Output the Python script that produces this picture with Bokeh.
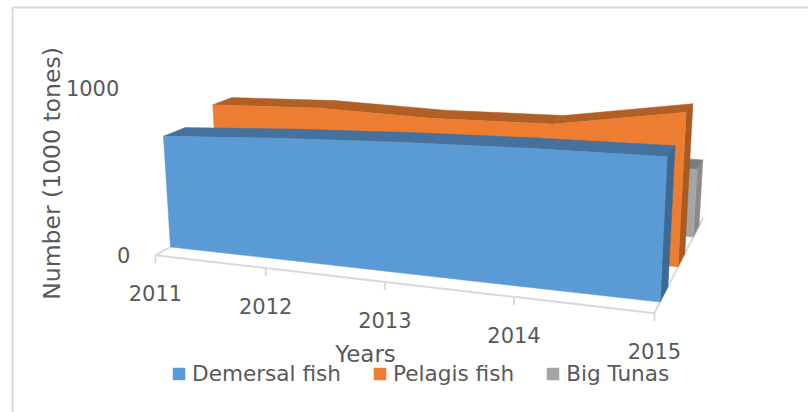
import numpy as np
from bokeh.core.properties import value
from bokeh.embed import file_html
from bokeh.models import Legend, LegendItem, Range1d
from bokeh.plotting import figure
from bokeh.resources import INLINE

years = ["2011", "2012", "2013", "2014", "2015"]
series_names = ["Demersal fish", "Pelagis fish", "Big Tunas"]
demersal = [685, 722, 748, 765, 772]
pelagis = [760, 780, 760, 770, 880]
big_tunas = [450, 440, 430, 420, 420]
y_ticks = [0, 1000]
y_title = "Number (1000 tones)"
x_title = "Years"

fills = ["#5B9BD5", "#ED7D31", "#A5A5A5"]
tops = ["#44719E", "#B25F25", "#7C7C7C"]
sides = ["#3D6A94", "#A85A20", "#8A8A8A"]
FONT = "DejaVu Sans"
TXT = "#595959"
GRID = "#D9D9D9"

# Camera: a single projective map (year index, depth, value) -> page pixels, fitted to the box.
D = [(0.095, 0.235), (0.43, 0.57), (0.76, 0.90)]
series = [demersal, pelagis, big_tunas]
anchors = [
    (0, 0, 0, 154, 253, 12), (1, 0, 0, 266, 268, 12), (2, 0, 0, 385, 282, 12), (3, 0, 0, 514, 297, 12),
    (4, 0, 0, 653, 313, 12), (4, 1, 0, 702, 220, 3), (0, 0, 1000, 143.5, 91, 6),
    (0, D[0][0], 0, 170, 243, 2), (4, D[0][0], 0, 658, 302, 2), (4, D[0][1], 0, 666, 288, 1),
    (4, D[1][0], 0, 677, 268, 1), (4, D[1][1], 0, 684, 255, 1),
    (0, D[0][0], 685, 163, 135, 3), (0, D[0][1], 685, 183, 127, 3),
    (4, D[0][0], 752, 668, 152, 3), (4, D[0][1], 752, 674, 143, 3),
    (0, D[1][0], 780, 213, 104, 3), (0, D[1][1], 780, 232, 98, 3),
    (4, D[1][0], 850, 686, 112, 3), (4, D[1][1], 850, 692, 104, 3),
    (4, D[2][0], 420, 696, 167, 1), (4, D[2][0], 0, 693, 237, 1),
]
rows, rhs = [], []
for X, Y, Z, u, w, g in anchors:
    Z = Z / 1000
    rows.append([g * c for c in [X, Y, Z, 1, 0, 0, 0, 0, -u * X, -u * Y, -u * Z]]); rhs.append(g * u)
    rows.append([g * c for c in [0, 0, 0, 0, X, Y, Z, 1, -w * X, -w * Y, -w * Z]]); rhs.append(g * w)
P = np.append(np.linalg.lstsq(np.array(rows, float), np.array(rhs, float), rcond=None)[0], 1.0).reshape(3, 4)


def proj(i, d, v):
    a = P @ np.array([i, d, v / 1000, 1.0])
    return a[0] / a[2], a[1] / a[2]


p = figure(width=808, height=412, output_backend="svg", toolbar_location=None,
           x_range=Range1d(0, 808), y_range=Range1d(412, 0), min_border=0,
           outline_line_color=None)
p.axis.visible = False
p.grid.visible = False

# chart frame
p.line([12, 12], [7, 412], line_color=GRID, line_width=2)
p.line([12, 808], [7, 7], line_color=GRID, line_width=2)

# floor and ticks
n = len(years)
floor_pts = [proj(i, 0, 0) for i in range(n)]
p.line([a[0] for a in floor_pts], [a[1] for a in floor_pts], line_color=GRID, line_width=2)
for i0 in (0, n - 1):
    a, b = proj(i0, 0, 0), proj(i0, 1, 0)
    p.line([a[0], b[0]], [a[1], b[1]], line_color=GRID, line_width=2)
for a in floor_pts:
    p.line([a[0], a[0]], [a[1], a[1] + 8], line_color=GRID, line_width=2)

# areas, back to front
fronts = []
for k in (2, 1, 0):
    vals, (d0, d1) = series[k], D[k]
    xs, ys = [], []
    for i in range(n - 1):
        q = [proj(i, d0, vals[i]), proj(i + 1, d0, vals[i + 1]), proj(i + 1, d1, vals[i + 1]), proj(i, d1, vals[i])]
        xs.append([c[0] for c in q]); ys.append([c[1] for c in q])
    p.patches(xs, ys, fill_color=tops[k], line_color=tops[k], line_width=0.5)
    q = [proj(n - 1, d0, 0), proj(n - 1, d1, 0), proj(n - 1, d1, vals[-1]), proj(n - 1, d0, vals[-1])]
    p.patch([c[0] for c in q], [c[1] for c in q], fill_color=sides[k], line_color=sides[k], line_width=0.5)
    q = [proj(0, d0, 0)] + [proj(i, d0, vals[i]) for i in range(n)] + [proj(n - 1, d0, 0)]
    r = p.patch([c[0] for c in q], [c[1] for c in q], fill_color=fills[k], line_color=fills[k], line_width=0.5)
    fronts.insert(0, r)

# tick labels
tx = [a[0] for a in floor_pts]
ty = [a[1] + 38 for a in floor_pts]
p.text(tx, ty, text=years, text_font=value(FONT), text_font_size="21px", text_color=TXT,
       text_align="center", text_baseline="middle")
vx = [proj(0, 0, v)[0] - 25 for v in y_ticks]
vy = [proj(0, 0, v)[1] for v in y_ticks]
p.text(vx, vy, text=[str(v) for v in y_ticks], text_font=value(FONT), text_font_size="21px", text_color=TXT,
       text_align="right", text_baseline="middle")
p.text([51], [173], text=[y_title], angle=np.pi / 2, text_font=value(FONT), text_font_size="23.5px", text_color=TXT,
       text_align="center", text_baseline="middle")
p.text([365], [353], text=[x_title], text_font=value(FONT), text_font_size="23px", text_color=TXT,
       text_align="center", text_baseline="middle")

legend = Legend(items=[LegendItem(label=s, renderers=[r]) for s, r in zip(series_names, fronts)],
                orientation="horizontal", location=(171, 26), background_fill_alpha=0, border_line_color=None,
                label_text_font=FONT, label_text_font_size="21.6px", label_text_color=TXT,
                glyph_width=15, glyph_height=15, label_standoff=6, spacing=31, padding=0, margin=0)
p.add_layout(legend, "center")

open("out.html", "w").write(file_html(p, INLINE))
